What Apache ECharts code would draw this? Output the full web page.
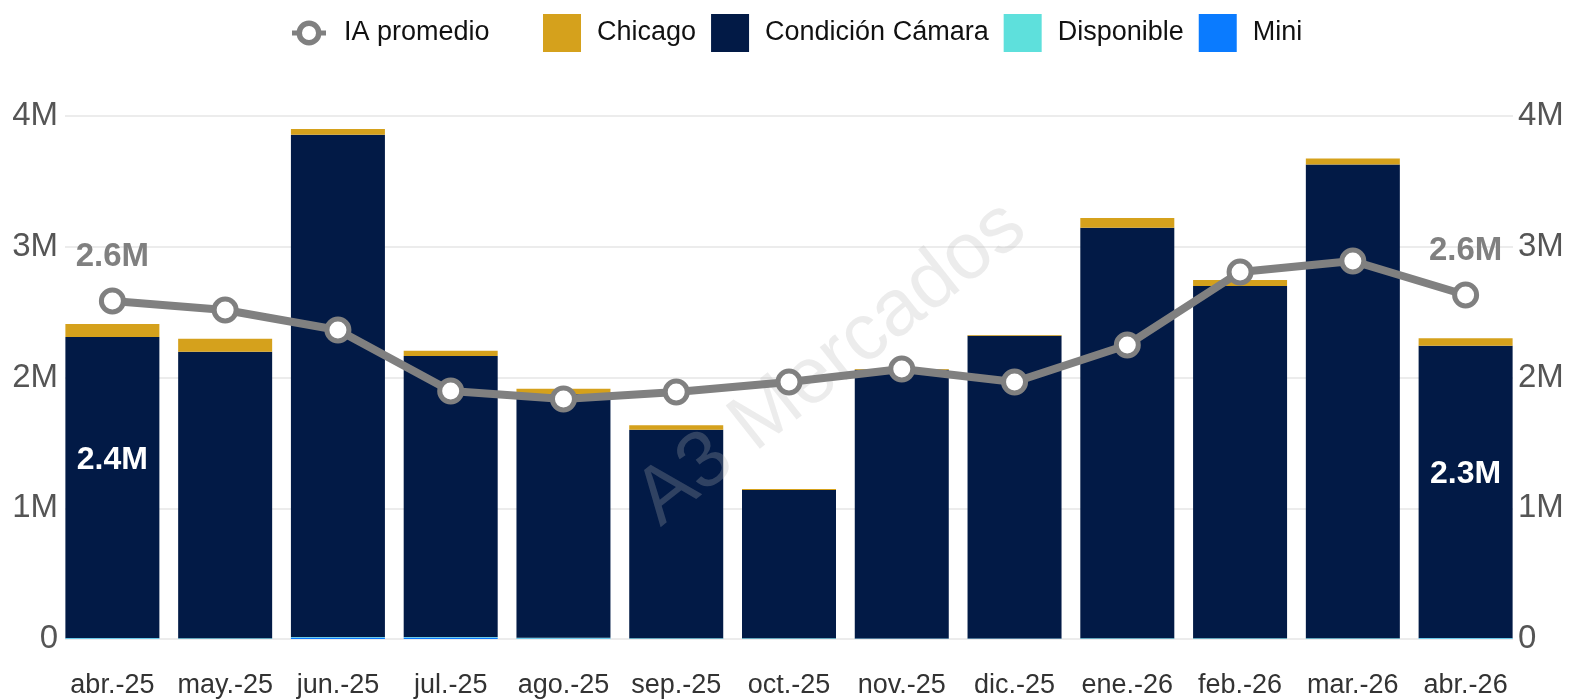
<!DOCTYPE html>
<html>
<head>
<meta charset="utf-8">
<script src="https://cdn.jsdelivr.net/npm/echarts@6/dist/echarts.min.js"></script>
<style>html,body{margin:0;padding:0;background:#fff}#c{width:1570px;height:699px}</style>
</head>
<body>
<div id="c"></div>
<script>
// values in millions
const categories = ['abr.-25','may.-25','jun.-25','jul.-25','ago.-25','sep.-25','oct.-25','nov.-25','dic.-25','ene.-26','feb.-26','mar.-26','abr.-26'];
const mini       = [0.003,0.002,0.012,0.012,0.004,0.002,0.002,0.001,0.001,0.002,0.002,0.002,0.003];
const disponible = [0.004,0.004,0.004,0.003,0.005,0.003,0.003,0.002,0.002,0.003,0.003,0.003,0.004];
const condicion  = [2.303,2.190,3.840,2.150,1.865,1.595,1.135,2.057,2.317,3.140,2.695,3.625,2.235];
const chicago    = [0.100,0.100,0.045,0.040,0.040,0.035,0.007,0.005,0.005,0.075,0.045,0.045,0.058];
const iaPromedio = [2.585,2.516,2.363,1.897,1.835,1.889,1.966,2.065,1.966,2.249,2.807,2.891,2.631];
const yMin = 0, yMax = 4, yInterval = 1;
const labelledIdx = [0, 12];

const fmtM = v => (v === 0 ? '0' : v + 'M');
const totals = categories.map((_, i) => mini[i] + disponible[i] + condicion[i] + chicago[i]);

const FONT = '"Liberation Sans", Arial, sans-serif';
const chart = echarts.init(document.getElementById('c'), null, {renderer: 'canvas'});

const chicagoData = chicago.map((v, i) => labelledIdx.includes(i) ? {
  value: v,
  label: {show: true, position: ['50%', 136], align: 'center', verticalAlign: 'middle',
    formatter: () => totals[i].toFixed(1) + 'M', color: '#fff', fontWeight: 'bold', fontSize: 32, fontFamily: FONT}
} : v);
const lineData = iaPromedio.map((v, i) => labelledIdx.includes(i) ? {
  value: v,
  label: {show: true, position: 'top', distance: 14, formatter: () => v.toFixed(1) + 'M',
    color: '#808080', fontWeight: 'bold', fontSize: 33, fontFamily: FONT}
} : v);

const barBase = {type: 'bar', stack: 'total', xAxisIndex: 0, yAxisIndex: 2, barWidth: 94};

// ring-with-stubs legend icon in a 38x38 box
const ringIcon = 'path://M19 0 L19.01 0 Z M19 38 L19.01 38 Z ' +
  'M2 16.5 L8 16.5 L8 21.5 L2 21.5 Z M30 16.5 L36 16.5 L36 21.5 L30 21.5 Z ' +
  'M19 6.5 A12.5 12.5 0 1 1 18.99 6.5 Z M19 12 A7 7 0 1 0 19.01 12 Z';

const legendBase = {
  top: 9, itemWidth: 38, itemHeight: 38, itemGap: 15,
  textStyle: {fontSize: 27, color: '#111', fontFamily: FONT, padding: [0, 0, 0, 11]}
};

chart.setOption({
  animation: false,
  textStyle: {fontFamily: FONT},
  legend: [
    Object.assign({}, legendBase, {left: 287,
      data: [{name: 'IA promedio', icon: ringIcon, itemStyle: {color: '#808080', borderWidth: 0}}]}),
    Object.assign({}, legendBase, {left: 538,
      data: [
        {name: 'Chicago', icon: 'rect'},
        {name: 'Condición Cámara', icon: 'rect'},
        {name: 'Disponible', icon: 'rect'},
        {name: 'Mini', icon: 'rect'}
      ]})
  ],
  grid: [
    {left: 56, right: 48, top: 116, bottom: 60},
    {left: 65, right: 57, top: 116, bottom: 60}
  ],
  xAxis: [
    {type: 'category', gridIndex: 0, data: categories,
      axisLine: {show: false}, axisTick: {show: false},
      axisLabel: {fontSize: 27, color: '#333', margin: 33, fontFamily: FONT, interval: 0}},
    {type: 'category', gridIndex: 1, data: categories, show: false}
  ],
  yAxis: [
    {type: 'value', gridIndex: 1, position: 'left', min: yMin, max: yMax, interval: yInterval,
      axisLine: {show: false}, axisTick: {show: false},
      axisLabel: {fontSize: 33, color: '#555', margin: 7, formatter: fmtM, fontFamily: FONT},
      splitLine: {show: true, lineStyle: {color: '#e6e6e6', width: 1.5}}},
    {type: 'value', gridIndex: 1, position: 'right', min: yMin, max: yMax, interval: yInterval,
      axisLine: {show: false}, axisTick: {show: false},
      axisLabel: {fontSize: 33, color: '#555', margin: 5, formatter: fmtM, fontFamily: FONT},
      splitLine: {show: false}},
    {type: 'value', gridIndex: 0, min: yMin, max: yMax, interval: yInterval, show: false, splitLine: {show: false}}
  ],
  graphic: [{
    type: 'text', left: 622, top: 186, z: 5, rotation: 0.67, originX: 0, originY: 0,
    style: {text: 'A3 Mercados', fontSize: 80, fontFamily: FONT, fill: 'rgba(180,180,180,0.26)'}
  }],
  series: [
    Object.assign({}, barBase, {name: 'Mini', data: mini, itemStyle: {color: '#0A7BFF'}}),
    Object.assign({}, barBase, {name: 'Disponible', data: disponible, itemStyle: {color: '#5EE0DC'}}),
    Object.assign({}, barBase, {name: 'Condición Cámara', data: condicion, itemStyle: {color: '#021A46'}}),
    Object.assign({}, barBase, {name: 'Chicago', data: chicagoData, itemStyle: {color: '#D5A11C'}}),
    {name: 'IA promedio', type: 'line', xAxisIndex: 0, yAxisIndex: 2, data: lineData, z: 10,
      symbol: 'circle', symbolSize: 22,
      lineStyle: {color: '#808080', width: 8},
      itemStyle: {color: '#fff', borderColor: '#808080', borderWidth: 5}}
  ]
});
</script>
</body>
</html>
